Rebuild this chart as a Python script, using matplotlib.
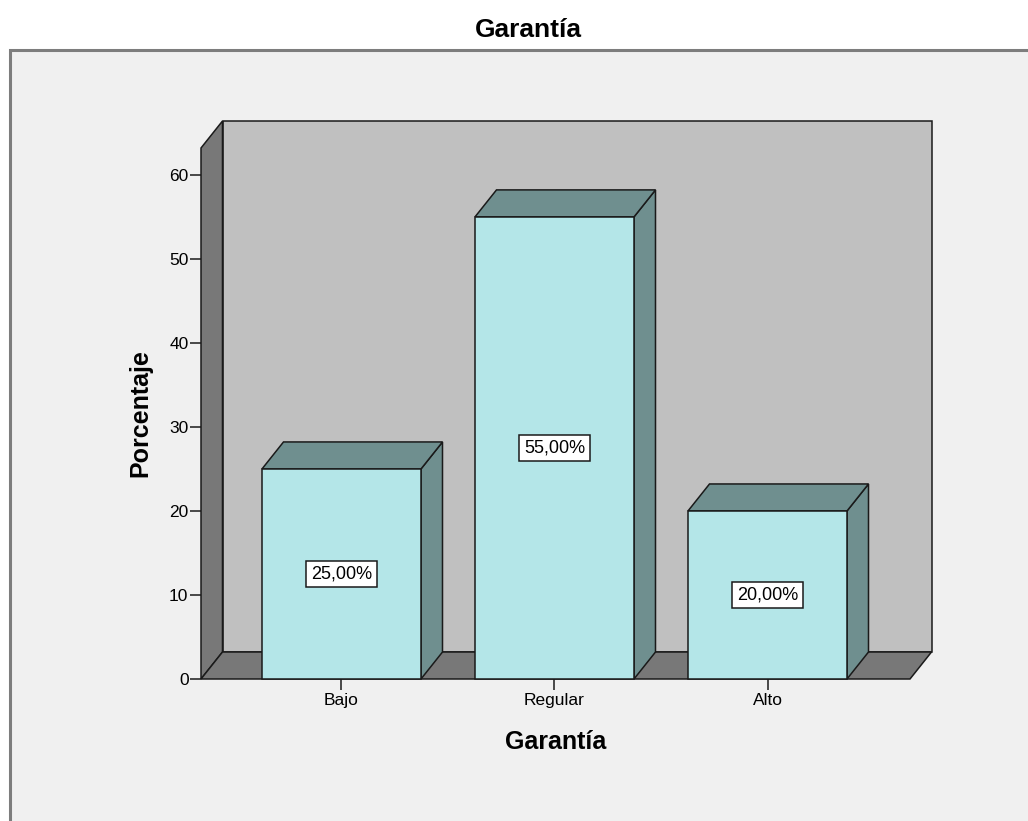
import matplotlib
matplotlib.use("Agg")
import matplotlib.pyplot as plt
from matplotlib.patches import Polygon, Rectangle

plt.rcParams["font.family"] = ["Liberation Sans", "DejaVu Sans"]

categories = ["Bajo", "Regular", "Alto"]
percentages = [25.0, 55.0, 20.0]
value_labels = ["25,00%", "55,00%", "20,00%"]
y_ticks = [0, 10, 20, 30, 40, 50, 60]

W, H = 1028, 821
FACE = "#B4E6E8"
SHADE = "#6F8F8F"
WALL = "#C0C0C0"
DARK = "#787878"
EDGE = "#1a1a1a"

fig = plt.figure(figsize=(W / 100, H / 100), dpi=100, facecolor="white")

# chart frame (runs off the right and bottom of the image)
fig.patches.append(Rectangle((10 / W, -0.1), 1.2, (H - 50) / H + 0.1,
                             transform=fig.transFigure, fc="#F0F0F0",
                             ec="#7d7d7d", lw=2.2, zorder=-5))

# axes covering the front plane of the 3-D box
left_px, right_px, bottom_px, top_px = 201, 910, 679, 148
ax = fig.add_axes([left_px / W, (H - bottom_px) / H,
                   (right_px - left_px) / W, (bottom_px - top_px) / H])
ax.set_facecolor("none")

x0, x1 = -0.6596, 2.669
y0, y1 = 0.0, 63.2
ax.set_xlim(x0, x1)
ax.set_ylim(y0, y1)

# depth offset of the box, converted from pixels to data units
px_x = (x1 - x0) / (right_px - left_px)
px_y = (y1 - y0) / (bottom_px - top_px)
dx, dy = 21.5 * px_x, 27 * px_y

def face(pts, color, z):
    ax.add_patch(Polygon(pts, closed=True, fc=color, ec=EDGE, lw=1.1,
                         joinstyle="miter", clip_on=False, zorder=z))

# back wall, left wall and floor
face([(x0 + dx, dy), (x1 + dx, dy), (x1 + dx, y1 + dy), (x0 + dx, y1 + dy)], WALL, 1)
face([(x0, 0), (x0 + dx, dy), (x0 + dx, y1 + dy), (x0, y1)], DARK, 2)
face([(x0, 0), (x1, 0), (x1 + dx, dy), (x0 + dx, dy)], DARK, 2)

width = 159 * px_x
for i, (val, lab) in enumerate(zip(percentages, value_labels)):
    a, b = i - width / 2, i + width / 2
    face([(b, 0), (b + dx, dy), (b + dx, val + dy), (b, val)], SHADE, 3)
    face([(a, val), (b, val), (b + dx, val + dy), (a + dx, val + dy)], SHADE, 3)
    face([(a, 0), (b, 0), (b, val), (a, val)], FACE, 4)
    ax.text(i, val / 2, lab, ha="center", va="center", fontsize=13, zorder=6,
            bbox=dict(boxstyle="square,pad=0.25", fc="white", ec=EDGE, lw=1.1))

for s in ax.spines.values():
    s.set_visible(False)

ax.set_xticks(range(len(categories)))
ax.set_xticklabels(categories)
ax.set_yticks(y_ticks)
ax.tick_params(axis="both", length=8, width=1.1, color=EDGE, labelsize=12.5)
ax.tick_params(axis="y", pad=1)
ax.tick_params(axis="x", pad=2)

ax.set_ylabel("Porcentaje", fontsize=18, fontweight="bold", labelpad=12)
ax.set_xlabel("Garantía", fontsize=18, fontweight="bold", labelpad=16)
fig.text(528 / W, 1 - 30 / H, "Garantía", ha="center", va="center",
         fontsize=19, fontweight="bold")

fig.savefig("out.png", dpi=100, facecolor="white")
